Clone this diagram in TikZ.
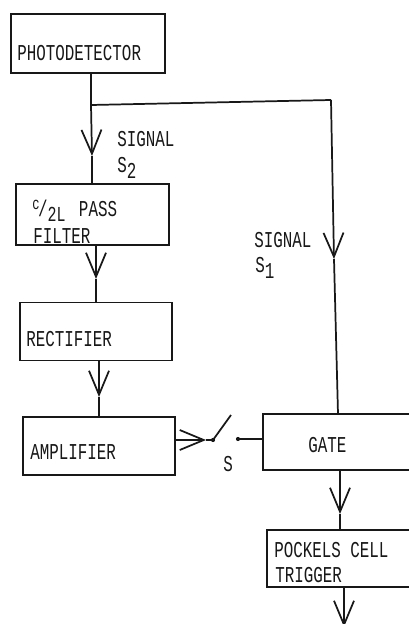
\documentclass[tikz,border=0pt]{standalone}
\usepackage{fontspec}
\newfontfamily\typedfont[FakeStretch=0.7]{Liberation Mono}
\usepackage{xcolor}
\usetikzlibrary{arrows.meta,positioning,calc}
\definecolor{ink}{RGB}{24,24,24}
\tikzset{
  wire/.style={line width=1.3pt,ink},
  flow/.style={wire,-{Straight Barb[length=18pt,width=15pt,line width=1.3pt]}},
  blockbox/.style={draw=ink,line width=1.3pt,rectangle,inner sep=0pt},
  typed/.style={font=\typedfont\fontsize{17}{20}\selectfont,text=ink,anchor=west,inner sep=0pt,align=left},
  dot/.style={circle,fill=ink,inner sep=1.1pt}
}
\begin{document}
\begin{tikzpicture}[x=0.75pt,y=-0.75pt]
  \useasboundingbox (0,0) rectangle (409,624);
  \clip (0,0) rectangle (409,624);
  \fill[white] (0,0) rectangle (409,624);
  % blocks
  \node[blockbox,minimum width=115.5pt,minimum height=44.2pt] (photo) at (88,43.5) {};
  \node[blockbox,minimum width=114.8pt,minimum height=45.8pt] (filter) at (92.5,214.5) {};
  \node[blockbox,minimum width=114pt,minimum height=43.5pt] (rect) at (96,331.5) {};
  \node[blockbox,minimum width=114pt,minimum height=43.5pt] (amp) at (99,446) {};
  \node[blockbox,minimum width=120pt,minimum height=42pt] (gate) at (343,442) {};
  \node[blockbox,minimum width=117pt,minimum height=42.8pt] (pockels) at (345,558.5) {};
  % block texts
  \node[typed] (photolabel) at (17,53) {PHOTODETECTOR};
  \node[typed] (filterpass) at (32,211) {\raisebox{5pt}{\fontsize{13}{13}\selectfont c}\kern-1pt/\raisebox{-4pt}{\fontsize{16}{16}\selectfont 2L}\hspace{10pt}PASS};
  \node[typed] (filterlabel) at (33,236) {FILTER};
  \node[typed] (rectlabel) at (26,339) {RECTIFIER};
  \node[typed] (amplabel) at (30,452) {AMPLIFIER};
  \node[typed] (gatelabel) at (308,445) {GATE};
  \node[typed] (pockelslabel) at (274,550) {POCKELS CELL};
  \node[typed] (triggerlabel) at (275,575) {TRIGGER};
  % side texts
  \node[typed] (signaltwo) at (117,139) {SIGNAL};
  \node[typed] (stwo) at (117,168) {S\raisebox{-4pt}{2}};
  \node[typed] (signalone) at (254,240) {SIGNAL};
  \node[typed] (sone) at (255,268) {S\raisebox{-4pt}{1}};
  \node[typed] (switchlabel) at (223,464) {S};
  % connectors
  \coordinate (branch) at (91,105);
  \coordinate (corner) at (331,100);
  \coordinate (tipa) at (92,156);
  \coordinate (tipb) at (96,279);
  \coordinate (tipc) at (99,397);
  \coordinate (tipd) at (340,514);
  \coordinate (tipe) at (344,627);
  \coordinate (tipf) at (334,259);
  \coordinate (tipg) at (206,440);
  \node[dot] (pole) at (213,440) {};
  \node[dot] (contact) at (238,439) {};
  \coordinate (arm) at (231,415);
  \draw[wire] (photo.south -| branch) -- (branch);
  \draw[flow] (branch) -- (tipa);
  \draw[wire] (tipa) -- (tipa |- filter.north);
  \draw[wire] (branch) -- (corner);
  \draw[flow] (corner) -- (tipf);
  \draw[wire] (tipf) -- (338,414);
  \draw[flow] (tipb |- filter.south) -- (tipb);
  \draw[wire] (tipb) -- (tipb |- rect.north);
  \draw[flow] (tipc |- rect.south) -- (tipc);
  \draw[wire] (tipc) -- (tipc |- amp.north);
  \draw[flow] (amp.east |- tipg) -- (tipg);
  \draw[wire] (tipg) -- (pole);
  \draw[wire] (pole.center) -- (arm);
  \draw[wire] (contact) -- (contact -| gate.west);
  \draw[flow] (tipd |- gate.south) -- (tipd);
  \draw[wire] (tipd) -- (tipd |- pockels.north);
  \draw[flow] (tipe |- pockels.south) -- (tipe);
\end{tikzpicture}
\end{document}
